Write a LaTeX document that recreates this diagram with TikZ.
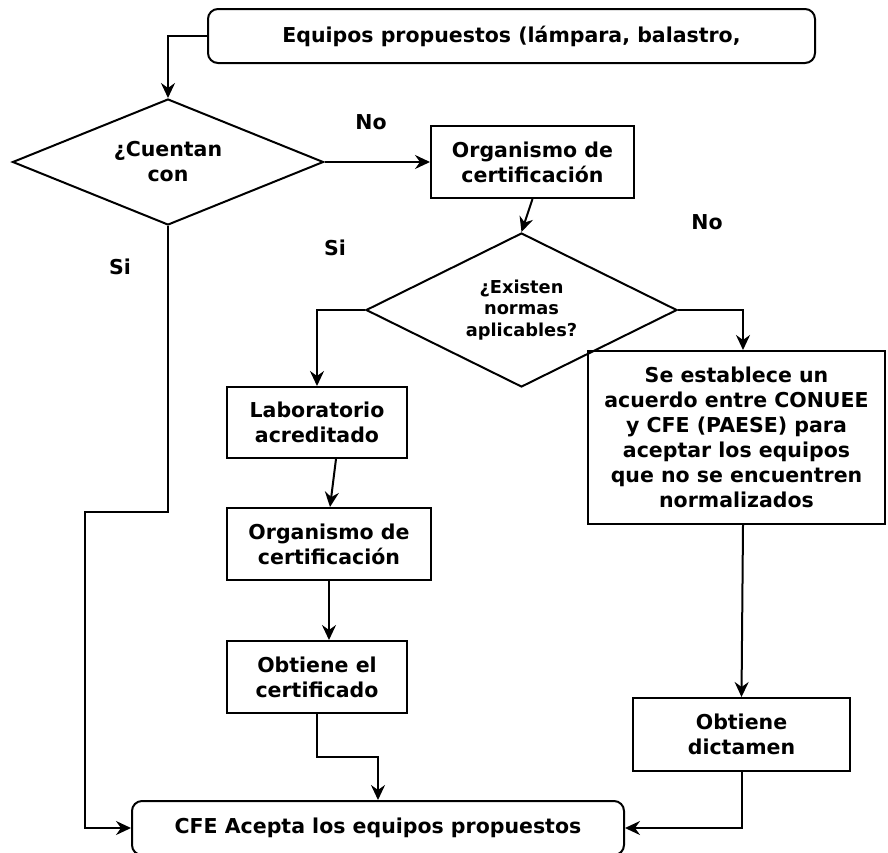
\documentclass[tikz,border=0pt]{standalone}
\usepackage{fontspec}
\setmainfont{DejaVu Sans}
\usetikzlibrary{shapes.geometric,arrows.meta}
\begin{document}
\begin{tikzpicture}[x=1pt,y=-1pt,
  every node/.style={font=\fontsize{20.5}{25}\selectfont\bfseries, align=center},
  box/.style={draw, rectangle, inner sep=0pt, line width=2pt},
  rbox/.style={box, rounded corners=10pt},
  dec/.style={draw, diamond, inner sep=0pt, line width=2pt},
  arr/.style={draw, line width=2pt, -{Stealth[length=15pt,width=14pt,inset=5pt]}},
  lbl/.style={inner sep=0pt}]
\useasboundingbox (0,0) rectangle (888,852);

\node[rbox, minimum width=607pt, minimum height=54pt] (top) at (511.5,36) {Equipos propuestos (lámpara, balastro,};
\node[dec, shape aspect=2.47, minimum width=311pt, minimum height=126pt] (d1) at (168,162) {¿Cuentan\\con};
\node[box, minimum width=203pt, minimum height=72pt] (org1) at (532.5,162) {Organismo de\\certificación};
\node[dec, shape aspect=2.02, minimum width=311pt, minimum height=154pt, font=\fontsize{17.8}{21.7}\selectfont\bfseries] (d2) at (521.5,310) {¿Existen\\normas\\aplicables?};
\node[box, minimum width=180pt, minimum height=71pt] (lab) at (317,422.5) {Laboratorio\\acreditado};
\node[box, minimum width=204pt, minimum height=72pt] (org2) at (329,544) {Organismo de\\certificación};
\node[box, minimum width=180pt, minimum height=72pt] (obt1) at (317,677) {Obtiene el\\certificado};
\node[box, minimum width=297pt, minimum height=173pt] (acu) at (736.5,437.5) {Se establece un\\acuerdo entre CONUEE\\y CFE (PAESE) para\\aceptar los equipos\\que no se encuentren\\normalizados};
\node[box, minimum width=217pt, minimum height=73pt] (dict) at (741.5,734.5) {Obtiene\\dictamen};
\node[rbox, minimum width=492pt, minimum height=54pt] (final) at (378,828) {CFE Acepta los equipos propuestos};

\node[lbl] (no1) at (371,122) {No};
\node[lbl] (si2) at (335,248) {Si};
\node[lbl] (no2) at (707,222) {No};
\node[lbl] (si1) at (120,267) {Si};

\coordinate (lb) at (85,512);
\coordinate (ob) at (378,757);

\draw[arr] (top.west) -| (d1.north);
\draw[arr] (d1.east) -- (org1.west);
\draw[arr] (org1.south) -- (d2.north);
\draw[arr] (d2.west) -| (lab.north);
\draw[arr] (d2.east) -| ([xshift=6.5pt]acu.north);
\draw[arr] ([xshift=19pt]lab.south) -- ([xshift=1pt]org2.north);
\draw[arr] (org2.south) -- (org2.south |- obt1.north);
\draw[arr] (obt1.south) |- (ob) -- (final.north);
\draw[arr] ([xshift=6.5pt]acu.south) -- (dict.north);
\draw[arr] (dict.south) |- (final.east);
\draw[arr] (d1.south) |- (lb) |- (final.west);
\end{tikzpicture}
\end{document}
